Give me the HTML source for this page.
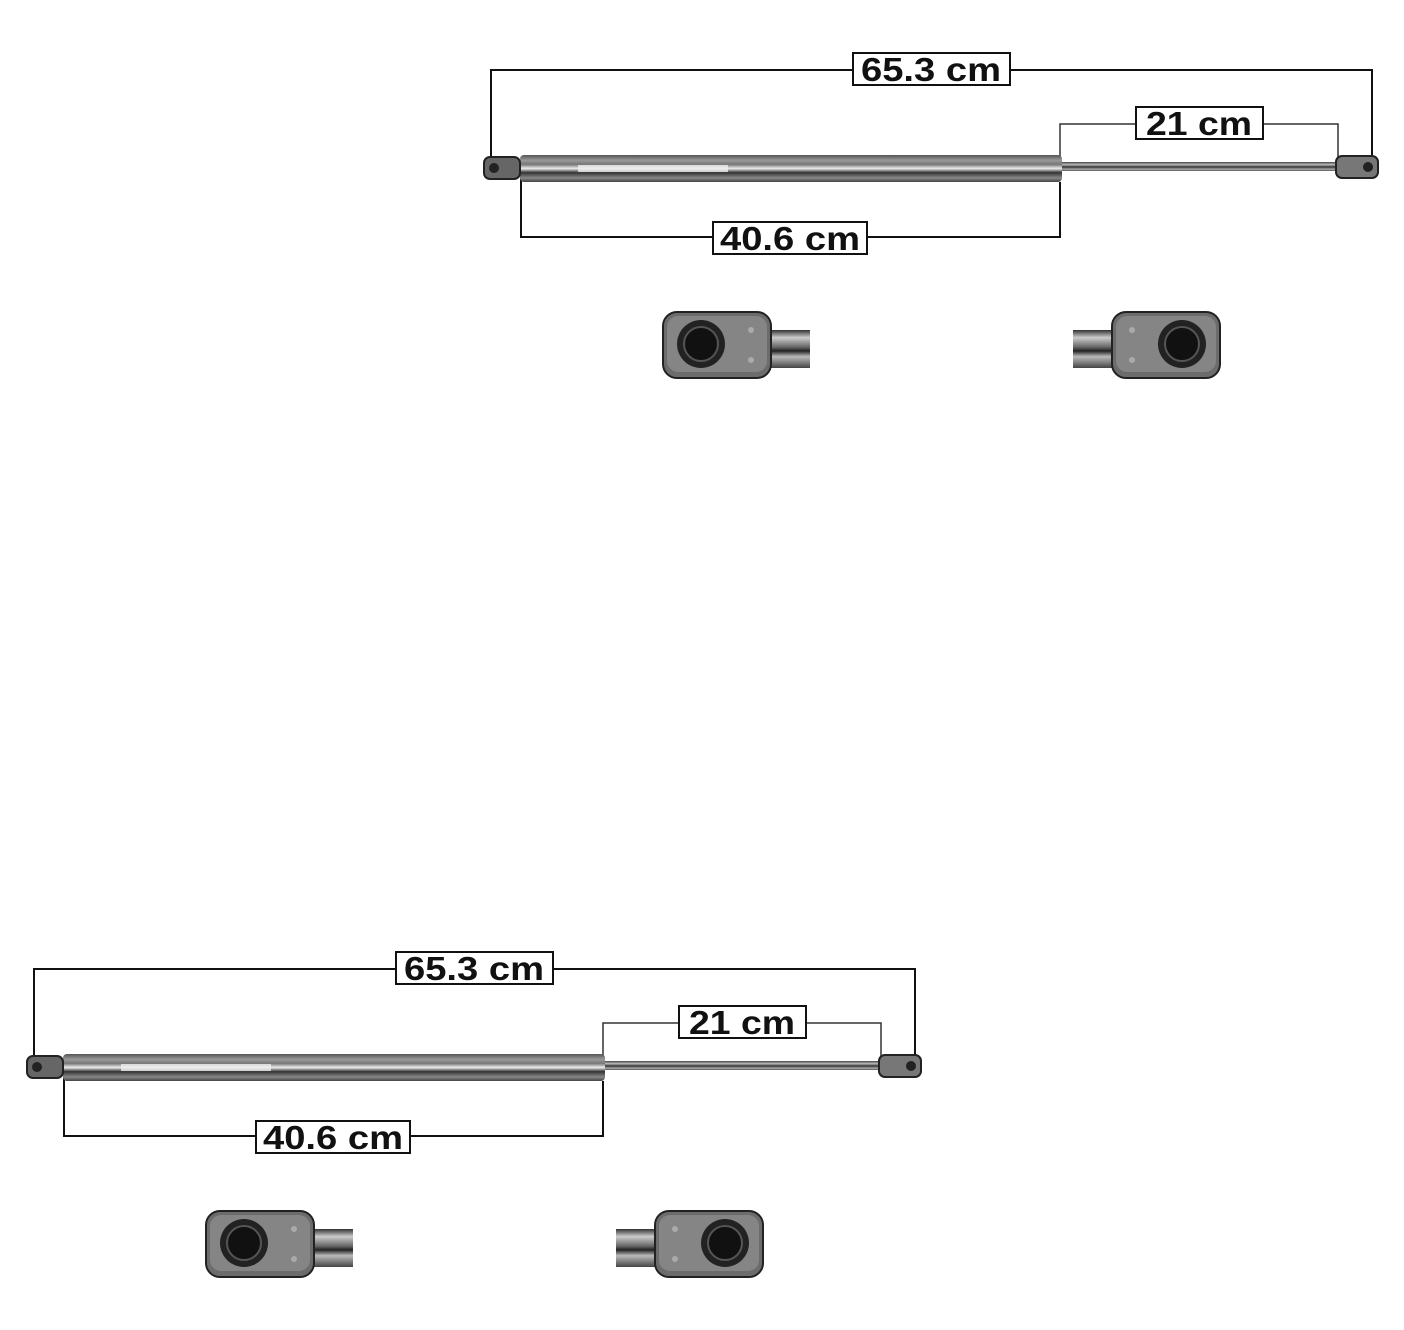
<!DOCTYPE html>
<html><head><meta charset="utf-8"><style>
html,body{margin:0;padding:0;background:#fff;}
svg{display:block;}
text{font-family:"Liberation Sans",sans-serif;font-weight:bold;fill:#111;}
</style></head><body>
<svg width="1404" height="1330" viewBox="0 0 1404 1330" xmlns="http://www.w3.org/2000/svg">
<defs>
<linearGradient id="cyl" x1="0" y1="0" x2="0" y2="1">
<stop offset="0" stop-color="#555"/><stop offset="0.2" stop-color="#999"/><stop offset="0.35" stop-color="#777"/><stop offset="0.5" stop-color="#eee"/><stop offset="0.65" stop-color="#333"/><stop offset="0.85" stop-color="#888"/><stop offset="1" stop-color="#444"/>
</linearGradient>
<linearGradient id="rod" x1="0" y1="0" x2="0" y2="1">
<stop offset="0" stop-color="#444"/><stop offset="0.3" stop-color="#bbb"/><stop offset="0.55" stop-color="#333"/><stop offset="0.8" stop-color="#aaa"/><stop offset="1" stop-color="#555"/>
</linearGradient>
<linearGradient id="frod" x1="0" y1="0" x2="0" y2="1">
<stop offset="0" stop-color="#333"/><stop offset="0.2" stop-color="#ccc"/><stop offset="0.45" stop-color="#666"/><stop offset="0.55" stop-color="#222"/><stop offset="0.7" stop-color="#bbb"/><stop offset="1" stop-color="#444"/>
</linearGradient>
<g id="fit">
<rect x="105" y="18" width="42" height="38" fill="url(#frod)"/>
<rect x="0" y="0" width="108" height="66" rx="14" fill="#6c6c6c" stroke="#222" stroke-width="2"/>
<rect x="4" y="4" width="100" height="56" rx="11" fill="#858585"/>
<circle cx="38" cy="32" r="24" fill="#222"/>
<circle cx="38" cy="32" r="17" fill="#111" stroke="#555" stroke-width="2"/>
<circle cx="88" cy="18" r="3" fill="#aaa"/><circle cx="88" cy="48" r="3" fill="#aaa"/>
</g>
<g id="strut">
<g stroke="#111" stroke-width="2" fill="none">
<polyline points="491,160 491,70 1372,70 1372,160"/>
<polyline points="521,178 521,237 1060,237 1060,182"/>
</g>
<polyline points="1060,160 1060,124 1338,124 1338,160" stroke="#333" stroke-width="1.5" fill="none"/>
<rect x="1060" y="162" width="280" height="9" fill="url(#rod)"/>
<rect x="520" y="155" width="542" height="27" rx="4" fill="url(#cyl)"/>
<rect x="578" y="165" width="150" height="7" fill="#eee" opacity="0.8"/>
<rect x="484" y="157" width="36" height="22" rx="6" fill="#666" stroke="#222" stroke-width="2"/>
<circle cx="494" cy="168" r="5" fill="#222"/>
<rect x="1336" y="156" width="42" height="22" rx="6" fill="#777" stroke="#222" stroke-width="2"/>
<circle cx="1368" cy="167" r="5" fill="#222"/>
<rect x="853" y="53" width="157" height="32" fill="#fff" stroke="#111" stroke-width="2"/>
<text x="931" y="81" font-size="33" text-anchor="middle" textLength="140" lengthAdjust="spacingAndGlyphs">65.3 cm</text>
<rect x="1136" y="107" width="127" height="32" fill="#fff" stroke="#111" stroke-width="2"/>
<text x="1199" y="135" font-size="33" text-anchor="middle" textLength="106" lengthAdjust="spacingAndGlyphs">21 cm</text>
<rect x="713" y="222" width="154" height="32" fill="#fff" stroke="#111" stroke-width="2"/>
<text x="790" y="250" font-size="33" text-anchor="middle" textLength="140" lengthAdjust="spacingAndGlyphs">40.6 cm</text>
<use href="#fit" x="663" y="312"/>
<use href="#fit" transform="translate(1220,312) scale(-1,1)"/>
</g>
</defs>
<use href="#strut"/>
<use href="#strut" x="-457" y="899"/>
</svg>
</body></html>
